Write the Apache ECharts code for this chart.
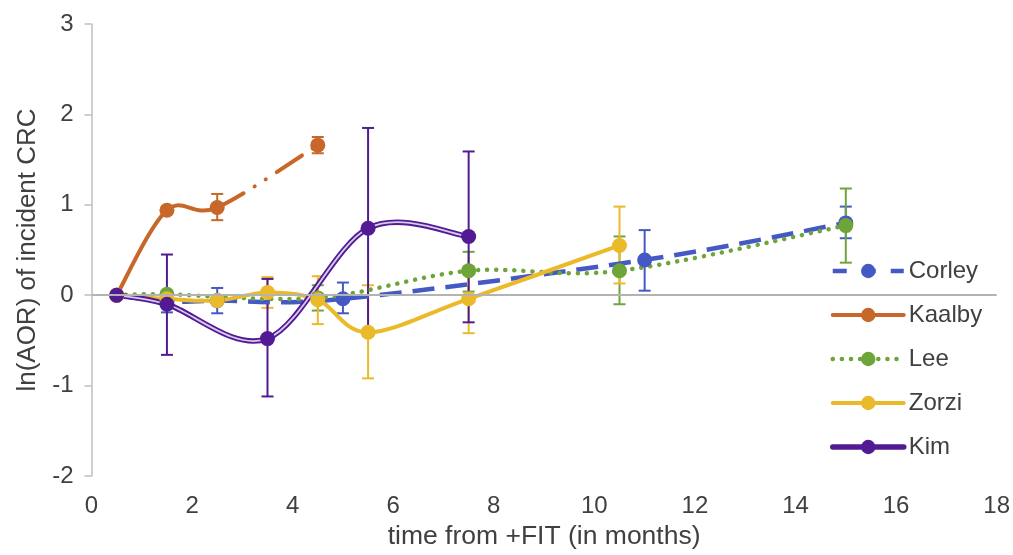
<!DOCTYPE html>
<html>
<head>
<meta charset="utf-8">
<script src="https://cdn.jsdelivr.net/npm/echarts@6/dist/echarts.min.js"></script>
<style>
    html, body { margin: 0; padding: 0; background: #fff; }
    #chart { width: 1013px; height: 555px; }
</style>
</head>
<body>
<div id="chart"></div>
<script>
// values (x = months, y = ln(AOR))
const corleyX = [0.5, 1.5, 2.5, 5, 11, 15]
const corleyY = [0, -0.07, -0.06, -0.04, 0.39, 0.8]
const corleyLow = [null, -0.19, -0.2, -0.2, 0.05, 0.63]
const corleyHigh = [null, 0.05, 0.08, 0.14, 0.72, 0.98]

const kaalbyX = [0.5, 1.5, 2.5, 4.5]
const kaalbyY = [0, 0.94, 0.97, 1.66]
const kaalbyLow = [null, 0.9, 0.83, 1.57]
const kaalbyHigh = [null, 0.98, 1.12, 1.75]

const leeX = [0.5, 1.5, 4.5, 7.5, 10.5, 15]
const leeY = [0, 0.01, -0.03, 0.27, 0.27, 0.77]
const leeLow = [null, null, -0.17, 0.04, -0.1, 0.36]
const leeHigh = [null, null, 0.11, 0.48, 0.65, 1.18]

const zorziX = [0.5, 1.5, 2.5, 3.5, 4.5, 5.5, 7.5, 10.5]
const zorziY = [0, -0.04, -0.06, 0.03, -0.05, -0.41, -0.04, 0.55]
const zorziLow = [null, null, null, -0.14, -0.32, -0.92, -0.42, 0.13]
const zorziHigh = [null, null, null, 0.2, 0.21, 0.11, 0.32, 0.98]

const kimX = [0.5, 1.5, 3.5, 5.5, 7.5]
const kimY = [0, -0.1, -0.48, 0.74, 0.65]
const kimLow = [null, -0.66, -1.12, -0.45, -0.3]
const kimHigh = [null, 0.45, 0.18, 1.85, 1.59]

const xTicks = { min: 0, max: 18, interval: 2 }
const yTicks = { min: -2, max: 3, interval: 1 }

const FONT = '"Liberation Sans", Arial, sans-serif'
const TEXT = '#404040'
const colors = {
    Corley: '#4459C4',
    Kaalby: '#C8672A',
    Lee: '#6EA53B',
    Zorzi: '#EBBA2B',
    Kim: '#521B93'
}
const styles = {
    Corley: { width: 4.5, type: [22, 11], cap: 'butt' },
    Kaalby: { width: 4, type: 'solid', cap: 'round' },
    KaalbyGap: { width: 4, type: [30, 13, 0.1, 13, 0.1, 13], cap: 'round' },
    Lee: { width: 4.5, type: [0.1, 9], cap: 'round' },
    Zorzi: { width: 4, type: 'solid', cap: 'round' },
    Kim: { width: 5.5, type: 'solid', cap: 'round' }
}
// legend swatches are shorter, so Corley's dashes are spaced to fit around the marker
const legendStyles = {
    Corley: { width: 4.5, type: [14, 15], cap: 'butt' }
}

function pairs(xs, ys) {
    return xs.map((x, i) => [x, ys[i]])
}

// [x, low, high] rows, skipping points without a bar
function errRows(xs, lows, highs) {
    const rows = []
    xs.forEach((x, i) => {
        if (lows[i] != null && highs[i] != null) rows.push([x, lows[i], highs[i]])
    })
    return rows
}

function errorSeries(name, color, rows) {
    return {
        name: name + ' err',
        type: 'custom',
        z: 1,
        silent: true,
        data: rows,
        renderItem(params, api) {
            const lo = api.coord([api.value(0), api.value(1)])
            const hi = api.coord([api.value(0), api.value(2)])
            const w = 6
            const style = { stroke: color, lineWidth: 2 }
            return {
                type: 'group',
                children: [
                    { type: 'line', shape: { x1: lo[0], y1: lo[1], x2: hi[0], y2: hi[1] }, style },
                    { type: 'line', shape: { x1: lo[0] - w, y1: lo[1], x2: lo[0] + w, y2: lo[1] }, style },
                    { type: 'line', shape: { x1: hi[0] - w, y1: hi[1], x2: hi[0] + w, y2: hi[1] }, style }
                ]
            }
        }
    }
}

// spreadsheet-like smoothed line (cardinal spline, tension 1/6) from segment `from` to `to`
function curvePath(pts, from, to) {
    const f = n => n.toFixed(2)
    let d = 'M' + f(pts[from][0]) + ' ' + f(pts[from][1])
    for (let i = from; i < to; i++) {
        const p0 = pts[Math.max(i - 1, 0)]
        const p1 = pts[i]
        const p2 = pts[i + 1]
        const p3 = pts[Math.min(i + 2, pts.length - 1)]
        const c1 = [p1[0] + (p2[0] - p0[0]) / 6, p1[1] + (p2[1] - p0[1]) / 6]
        const c2 = [p2[0] - (p3[0] - p1[0]) / 6, p2[1] - (p3[1] - p1[1]) / 6]
        d += ' C' + f(c1[0]) + ' ' + f(c1[1]) + ' ' + f(c2[0]) + ' ' + f(c2[1]) + ' ' + f(p2[0]) + ' ' + f(p2[1])
    }
    return d
}

// strokes: [{ from, to, color, lineStyle }]
function curveSeries(name, xs, ys, strokes) {
    return {
        name: name + ' curve',
        type: 'custom',
        z: 2,
        silent: true,
        data: pairs(xs, ys),
        renderItem(params, api) {
            if (params.dataIndex !== 0) return null
            const pts = xs.map((x, i) => api.coord([x, ys[i]]))
            return {
                type: 'group',
                children: strokes.map(s => ({
                    type: 'path',
                    shape: { pathData: curvePath(pts, s.from, s.to) },
                    style: {
                        fill: 'none',
                        stroke: s.color,
                        lineWidth: s.lineStyle.width,
                        lineDash: Array.isArray(s.lineStyle.type) ? s.lineStyle.type : null,
                        lineCap: s.lineStyle.cap
                    }
                }))
            }
        }
    }
}

// markers only; the line itself is drawn by curveSeries
function markerSeries(name, xs, ys) {
    return {
        name: name,
        type: 'line',
        z: 3,
        data: pairs(xs, ys),
        symbol: 'circle',
        symbolSize: 15,
        color: colors[name],
        itemStyle: { color: colors[name] },
        lineStyle: Object.assign({ color: colors[name], opacity: 0 }, styles[name])
    }
}

function legendItem(name) {
    return { name: name, lineStyle: Object.assign({ opacity: 1 }, legendStyles[name] || styles[name]) }
}

const chart = echarts.init(document.getElementById('chart'))

const option = {
    animation: false,
    grid: { left: 91.5, right: 12.5, top: 24, bottom: 79 },
    legend: {
        data: ['Corley', 'Kaalby', 'Lee', 'Zorzi', 'Kim'].map(legendItem),
        orient: 'vertical',
        left: 825,
        top: 254,
        itemWidth: 71,
        itemHeight: 18,
        itemGap: 20,
        textStyle: { fontFamily: FONT, fontSize: 24, color: TEXT, lineHeight: 24 }
    },
    xAxis: {
        type: 'value',
        min: xTicks.min,
        max: xTicks.max,
        interval: xTicks.interval,
        name: 'time from +FIT (in months)',
        nameLocation: 'middle',
        nameGap: 46,
        nameTextStyle: { fontFamily: FONT, fontSize: 26.5, color: TEXT },
        axisLine: { show: false, onZero: false },
        axisTick: { show: false },
        splitLine: { show: false },
        axisLabel: { fontFamily: FONT, fontSize: 24, color: TEXT, margin: 18 }
    },
    yAxis: {
        type: 'value',
        min: yTicks.min,
        max: yTicks.max,
        interval: yTicks.interval,
        name: 'ln(AOR) of incident CRC',
        nameLocation: 'middle',
        nameGap: 48,
        nameTextStyle: { fontFamily: FONT, fontSize: 26, color: TEXT },
        axisLine: { show: true, lineStyle: { color: '#bfbfbf', width: 1.5 } },
        axisTick: { show: true, length: 7, lineStyle: { color: '#bfbfbf', width: 1.5 } },
        splitLine: { show: false },
        axisLabel: { fontFamily: FONT, fontSize: 24, color: TEXT, margin: 18 }
    },
    series: [
        // zero line, drawn like the horizontal axis crossing at 0
        {
            name: 'zero',
            type: 'line',
            data: [],
            silent: true,
            markLine: {
                silent: true,
                symbol: 'none',
                label: { show: false },
                lineStyle: { color: '#b3b3b3', width: 2, type: 'solid' },
                data: [{ yAxis: 0 }]
            }
        },
        errorSeries('Corley', colors.Corley, errRows(corleyX, corleyLow, corleyHigh)),
        errorSeries('Kaalby', colors.Kaalby, errRows(kaalbyX, kaalbyLow, kaalbyHigh)),
        errorSeries('Lee', colors.Lee, errRows(leeX, leeLow, leeHigh)),
        errorSeries('Zorzi', colors.Zorzi, errRows(zorziX, zorziLow, zorziHigh)),
        errorSeries('Kim', colors.Kim, errRows(kimX, kimLow, kimHigh)),

        curveSeries('Corley', corleyX, corleyY, [
            { from: 0, to: corleyX.length - 1, color: colors.Corley, lineStyle: styles.Corley }
        ]),
        // Kaalby: last segment long dash / dot / dot
        curveSeries('Kaalby', kaalbyX, kaalbyY, [
            { from: 0, to: kaalbyX.length - 2, color: colors.Kaalby, lineStyle: styles.Kaalby },
            { from: kaalbyX.length - 2, to: kaalbyX.length - 1, color: colors.Kaalby, lineStyle: styles.KaalbyGap }
        ]),
        curveSeries('Lee', leeX, leeY, [
            { from: 0, to: leeX.length - 1, color: colors.Lee, lineStyle: styles.Lee }
        ]),
        curveSeries('Zorzi', zorziX, zorziY, [
            { from: 0, to: zorziX.length - 1, color: colors.Zorzi, lineStyle: styles.Zorzi }
        ]),
        // Kim: double line, purple with a light core
        curveSeries('Kim', kimX, kimY, [
            { from: 0, to: kimX.length - 1, color: colors.Kim, lineStyle: styles.Kim },
            { from: 0, to: kimX.length - 1, color: '#d9c9ee', lineStyle: { width: 1.8, type: 'solid', cap: 'round' } }
        ]),

        markerSeries('Corley', corleyX, corleyY),
        markerSeries('Kaalby', kaalbyX, kaalbyY),
        markerSeries('Lee', leeX, leeY),
        markerSeries('Zorzi', zorziX, zorziY),
        markerSeries('Kim', kimX, kimY)
    ]
}

chart.setOption(option)
</script>
</body>
</html>
